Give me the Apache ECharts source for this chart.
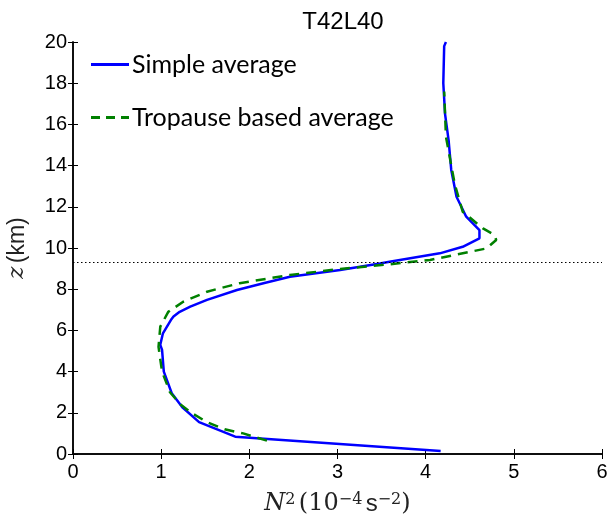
<!DOCTYPE html>
<html><head><meta charset="utf-8">
<script src="https://cdn.jsdelivr.net/npm/echarts@6/dist/echarts.min.js"></script>
<style>html,body{margin:0;padding:0;background:#fff}#c{width:608px;height:517px}</style>
</head><body><div id="c"></div>
<script>
// Simple average: [N^2 (1e-4 s^-2), z (km)]
const simpleN = [4.17,1.84,1.43,1.24,1.12,1.03,1.01,0.99,1.02,1.11,1.14,1.21,1.33,1.52,1.86,2.16,2.46,3.03,3.48,3.59,4.16,4.42,4.61,4.61,4.46,4.35,4.29,4.26,4.22,4.20,4.21,4.23];
const simpleZ = [0.15,0.84,1.55,2.27,2.95,4.0,5.05,5.3,5.86,6.5,6.67,6.9,7.15,7.48,7.96,8.29,8.6,8.93,9.25,9.33,9.74,10.06,10.47,10.87,11.52,12.49,13.79,15.24,16.5,18.0,19.8,20.0];
// Tropopause based average
const tropN = [2.20,1.93,1.72,1.52,1.35,1.22,1.10,1.01,0.97,0.99,1.08,1.25,1.52,1.89,2.46,3.03,3.59,4.05,4.69,4.80,4.78,4.65,4.42,4.33,4.23,4.21];
const tropZ = [0.65,1.0,1.2,1.55,1.98,2.4,3.0,4.0,5.2,6.18,6.9,7.39,7.88,8.29,8.69,8.98,9.21,9.42,9.98,10.39,10.63,10.95,11.76,13.1,15.4,17.6];
const tropopauseZ = 9.3;
const xTicks = [0,1,2,3,4,5,6];
const yTicks = [0,2,4,6,8,10,12,14,16,18,20];

const chart = echarts.init(document.getElementById('c'));
const sans = 'Liberation Sans';
const axBase = {
  type:'value', axisLine:{show:true,lineStyle:{color:'#000',width:1.5}},
  axisTick:{show:true,inside:true,length:5,lineStyle:{color:'#000',width:1}},
  splitLine:{show:false}
};
chart.setOption({
  animation:false,
  title:{text:'T42L40',left:338,top:5,textAlign:'center',textStyle:{fontFamily:sans,fontWeight:'normal',fontSize:24,color:'#000'}},
  grid:{left:73,right:6,top:42,bottom:63,containLabel:false,outerBoundsMode:'none'},
  legend:{
    orient:'vertical',left:86,top:47,itemGap:28,itemWidth:38,itemHeight:3,
    textStyle:{fontFamily:'Lato',fontSize:25,color:'#000',padding:[0,0,0,-2]},
    data:[
      {name:'Simple average',icon:'path://M0,0H38V3H0Z'},
      {name:'Tropause based average',icon:'path://M0,0H9V3H0ZM15,0H24V3H15ZM30,0H38V3H30Z'}
    ]
  },
  xAxis:[
    Object.assign({},axBase,{position:'bottom',min:0,max:6,interval:1,
      axisLabel:{show:true,fontFamily:sans,fontSize:20,color:'#000',margin:8},
      name:'{i|N}{sup|2} {s|(10}{sup|−4} {t|s}{sup|−2}{s|)}',nameLocation:'middle',nameGap:38,
      nameTextStyle:{rich:{
        i:{fontFamily:'DejaVu Serif',fontStyle:'italic',fontSize:24,color:'#222',verticalAlign:'bottom'},
        s:{fontFamily:'DejaVu Serif',fontSize:24,color:'#222',verticalAlign:'bottom'},
        t:{fontFamily:sans,fontSize:24,color:'#222',verticalAlign:'bottom'},
        sup:{fontFamily:'DejaVu Serif',fontSize:16,color:'#222',verticalAlign:'top'}
      }}}),
    Object.assign({},axBase,{position:'top',min:0,max:6,interval:1,axisLabel:{show:false}})
  ],
  yAxis:[
    Object.assign({},axBase,{position:'left',min:0,max:20,interval:2,
      axisLabel:{show:true,fontFamily:sans,fontSize:20,color:'#000',margin:6},
      name:'{i|z} {s|(km)}',nameLocation:'middle',nameGap:44,nameRotate:90,
      nameTextStyle:{rich:{
        i:{fontFamily:'DejaVu Serif',fontStyle:'italic',fontSize:23,color:'#222'},
        s:{fontFamily:sans,fontSize:23,color:'#222'}
      }}}),
    Object.assign({},axBase,{position:'right',min:0,max:20,interval:2,axisLabel:{show:false}})
  ],
  series:[
    {name:'Simple average',type:'line',symbol:'none',z:2,
      lineStyle:{color:'#0000ff',width:2.5},itemStyle:{color:'#0000ff'},
      data:simpleN.map((v,i)=>[v,simpleZ[i]]),
      markLine:{silent:true,symbol:'none',label:{show:false},
        lineStyle:{color:'#000',type:[1.5,2.5],width:1},data:[{yAxis:tropopauseZ}]}},
    {name:'Tropause based average',type:'line',symbol:'none',z:3,
      lineStyle:{color:'#008000',width:2.5,type:[10,7]},itemStyle:{color:'#008000'},
      data:tropN.map((v,i)=>[v,tropZ[i]])}
  ]
});
</script></body></html>
